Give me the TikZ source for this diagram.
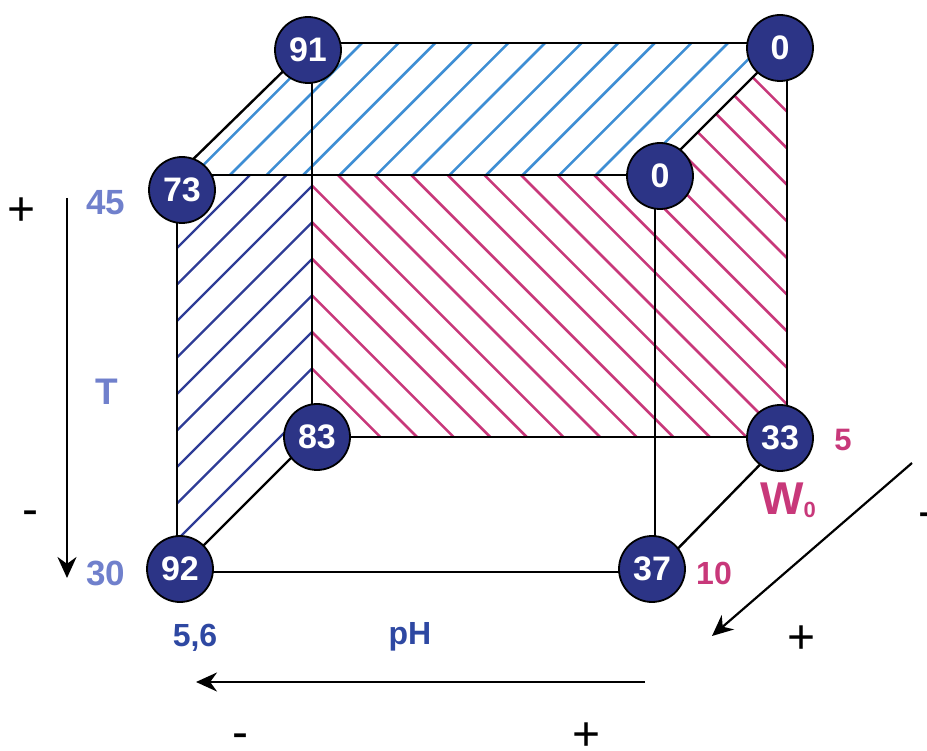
\documentclass[tikz,border=0pt]{standalone}
\usepackage{fontspec}
\setmainfont{Liberation Sans}
\usetikzlibrary{arrows.meta}

\definecolor{ballblue}{RGB}{44,52,134}
\definecolor{topblue}{RGB}{62,142,212}
\definecolor{sideblue}{RGB}{46,60,150}
\definecolor{backmag}{RGB}{200,56,122}
\definecolor{tblue}{RGB}{112,128,204}
\definecolor{phblue}{RGB}{46,72,162}
\newcommand{\sizept}[1]{\fontsize{#1}{#1}\selectfont}

\begin{document}
\begin{tikzpicture}[
		x=1pt, y=-1pt,
		ball/.style={circle, fill=ballblue, draw=black, line width=1.8pt, minimum size=66pt, inner sep=0pt, text=white, font=\sizept{34}\bfseries},
		edge/.style={black, line width=2.4pt},
		hatch top/.style={topblue, line width=2.6pt},
		hatch side/.style={sideblue, line width=2.3pt},
		hatch back/.style={backmag, line width=2.6pt},
		axis/.style={black, line width=2.2pt, -{Stealth[length=21pt, width=19pt]}},
		sign/.style={font=\sizept{48}, inner sep=0pt},
		]
		\useasboundingbox (0,0) rectangle (927,751);
		
		% Corners of the cube
		\coordinate (v91) at (312,43);
		\coordinate (v0b) at (787,43);
		\coordinate (v73) at (177,175);
		\coordinate (v0f) at (655,175);
		\coordinate (v83) at (312,437);
		\coordinate (v33) at (787,437);
		\coordinate (v92) at (177,572);
		\coordinate (v37) at (655,572);
		
		% Hatching of the top face
		\begin{scope}
			\clip (v73) -- (v91) -- (v0b) -- (v0f) -- cycle;
			\foreach \k in {-2,...,14} {
				\draw[hatch top] ({405+36.6*\k},0) -- ({405+36.6*\k-800},800);
			}
		\end{scope}
		
		% Hatching of the left face
		\begin{scope}
			\clip (v73) -- (312,175) -- (v83) -- (v92) -- cycle;
			\foreach \k in {-3,...,10} {
				\draw[hatch side] ({425+36.5*\k},0) -- ({425+36.5*\k-800},800);
			}
		\end{scope}
		
		% Hatching of the back face
		\begin{scope}
			\clip (312,175) -- (v0f) -- (v0b) -- (v33) -- (v83) -- cycle;
			\foreach \k in {-8,...,17} {
				\draw[hatch back] ({163+36.6*\k},0) -- ({163+36.6*\k+800},800);
			}
		\end{scope}
		
		% Edges
		\draw[edge] (v91) -- (v0b) -- (v33) -- (v83) -- cycle;
		\draw[edge] (v73) -- (v0f) -- (v37) -- (v92) -- cycle;
		\foreach \a/\b in {v91/v73, v0b/v0f, v33/v37, v83/v92} {
			\draw[edge] (\a) -- (\b);
		}
		
		% Corner values
		\node[ball] (n91) at (308,50) {91};
		\node[ball] (n0b) at (780,48) {0};
		\node[ball] (n73) at (182,190) {73};
		\node[ball] (n0f) at (660,176) {0};
		\node[ball] (n83) at (317,437) {83};
		\node[ball] (n33) at (780,438) {33};
		\node[ball] (n92) at (180,569) {92};
		\node[ball] (n37) at (652,569) {37};
		
		% T axis
		\coordinate (Ttop) at (67,198);
		\coordinate (Tbot) at (67,578);
		\draw[axis] (Ttop) -- (Tbot);
		\node[sign] (Tplus) at (22,212) {+};
		\node[sign] (Tminus) at (30,518) {-};
		\node[tblue, font=\sizept{35}\bfseries] (T45) at (106,203) {45};
		\node[tblue, font=\sizept{37}\bfseries] (Tlab) at (107,392) {T};
		\node[tblue, font=\sizept{35}\bfseries] (T30) at (106,573) {30};
		
		% pH axis
		\coordinate (pHright) at (645,682);
		\coordinate (pHleft) at (196,682);
		\draw[axis] (pHright) -- (pHleft);
		\node[phblue, font=\sizept{32}\bfseries] (pH56) at (195,638) {5,6};
		\node[phblue, font=\sizept{32}\bfseries] (pHlab) at (410,637) {pH};
		\node[sign] (pHminus) at (240,741) {-};
		\node[sign] (pHplus) at (587,737) {+};
		
		% W0 axis
		\coordinate (Wtop) at (912,463);
		\coordinate (Wbot) at (712,636);
		\draw[axis] (Wtop) -- (Wbot);
		\node[backmag, font=\sizept{31}\bfseries] (W5) at (843,440) {5};
		\node[backmag, font=\sizept{32}\bfseries] (W10) at (714,573) {10};
		\node[backmag, font=\sizept{46}\bfseries] (Wlab) at (788,500) {W\raisebox{-3pt}{\sizept{22}0}};
		\node[sign] (Wplus) at (802,640) {+};
		\node[sign] (Wminus) at (926,520) {-};
		
	\end{tikzpicture}
\end{document}
